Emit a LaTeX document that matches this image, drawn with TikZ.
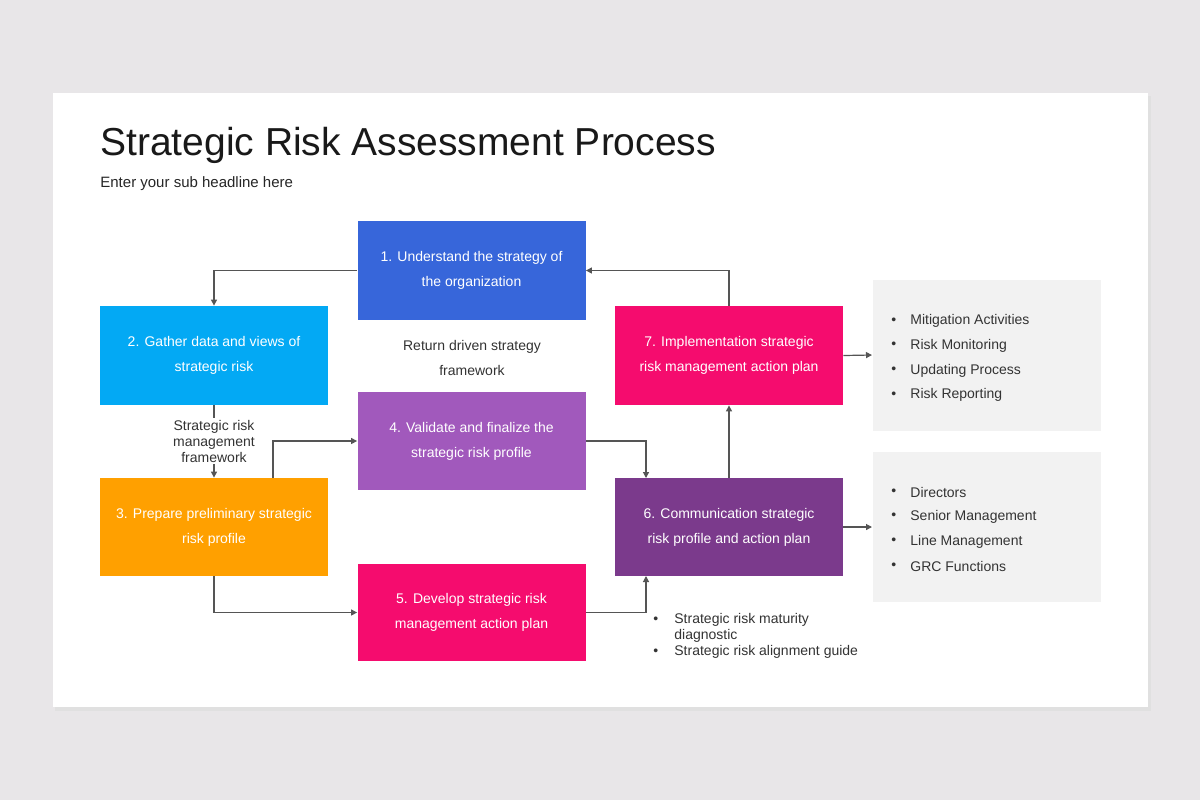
\documentclass[tikz,border=0pt]{standalone}
\usepackage{fontspec}
\setmainfont{Liberation Sans}
\usetikzlibrary{arrows.meta,calc}
\definecolor{bg}{HTML}{E8E6E8}
\definecolor{cA}{HTML}{3766DA}
\definecolor{cB}{HTML}{03A9F4}
\definecolor{cC}{HTML}{FFA000}
\definecolor{cD}{HTML}{A159BC}
\definecolor{cE}{HTML}{F50C6E}
\definecolor{cF}{HTML}{7B3A8C}
\definecolor{gbox}{HTML}{F2F2F2}
\definecolor{ln}{HTML}{555555}
\definecolor{tx}{HTML}{333333}
\tikzset{
  stepbox/.style={fill=#1,text=white,font=\fontsize{7}{12.5}\selectfont,align=center,inner sep=0pt},
  conn/.style={draw=ln,line width=0.6pt,-{Triangle[length=3pt,width=3pt]}},
  lbl/.style={text=tx,font=\fontsize{7}{8}\selectfont,align=center},
  itm/.style={text=tx,font=\fontsize{7}{8}\selectfont,anchor=west,inner sep=0pt},
}
\begin{document}
\begin{tikzpicture}[x=0.5pt,y=-0.5pt]
\fill[bg] (0,0) rectangle (1200,800);
\useasboundingbox (0,0) rectangle (1200,800);
\fill[black!12] (55,96) rectangle (1151,711);
\fill[white] (53,93) rectangle (1148,707);
\node[anchor=base west,inner sep=0pt,text=black!90,font=\fontsize{19.5}{20}\selectfont] (title) at (100,155) {Strategic Risk Assessment Process};
\node[anchor=base west,inner sep=0pt,text=black!85,font=\fontsize{7.5}{9}\selectfont] (sub) at (100,187) {Enter your sub headline here};
\newcommand{\bx}[6]{\node[stepbox=#6,minimum width=#4*0.5pt,minimum height=#5*0.5pt] (#1) at (#2,#3) {\strut #1};}
\node[stepbox=cA,minimum width=114pt,minimum height=49.5pt] (n1) at (471.5,270.5) {1. Understand the strategy of\\the organization};
\node[stepbox=cB,minimum width=114pt,minimum height=49.5pt] (n2) at (214,355.5) {2. Gather data and views of\\strategic risk};
\node[stepbox=cC,minimum width=114pt,minimum height=49pt] (n3) at (214,527) {3. Prepare preliminary strategic\\risk profile};
\node[stepbox=cD,minimum width=114pt,minimum height=49pt] (n4) at (471.5,441) {4. Validate and finalize the\\strategic risk profile};
\node[stepbox=cE,minimum width=114pt,minimum height=48.5pt] (n5) at (471.5,612.5) {5. Develop strategic risk\\management action plan};
\node[stepbox=cF,minimum width=114pt,minimum height=49pt] (n6) at (729,527) {6. Communication strategic\\risk profile and action plan};
\node[stepbox=cE,minimum width=114pt,minimum height=49.5pt] (n7) at (729,355.5) {7. Implementation strategic\\risk management action plan};
\node[fill=gbox,minimum width=114pt,minimum height=75.5pt,inner sep=0pt] (g1) at (987,355.5) {};
\node[fill=gbox,minimum width=114pt,minimum height=75pt,inner sep=0pt] (g2) at (987,527) {};
% connectors
\draw[conn] (n1.west) -| (n2.north);
\draw[conn] (n2.south) -- (n3.north);
\node[lbl,fill=white,inner sep=1pt,font=\fontsize{7}{8}\selectfont] (l2) at (214,441) {Strategic risk\\management\\framework};
\coordinate (c3t) at (273,478);
\draw[conn] (c3t) |- (n4.west);
\coordinate (c3b) at (214,576);
\draw[conn] (c3b) |- (n5.west);
\draw[conn] (n4.east) -| (646,478) coordinate (c6t);
\draw[conn] (n5.east) -| (646,576) coordinate (c6b);
\draw[conn] (n6.north) -- (n7.south);
\draw[conn] (n7.north) |- (n1.east);
\coordinate (e1) at (872,355);
\coordinate (e2) at (872,527);
\draw[conn] (n7.east) -- (e1);
\draw[conn] (n6.east) -- (e2);
\node[lbl,font=\fontsize{7}{12.5}\selectfont] (rd) at (472,358) {Return driven strategy\\framework};
% bullet lists
\foreach \t [count=\i] in {Mitigation Activities,Risk Monitoring,Updating Process,Risk Reporting}{
  \node[itm] (a\i) at (891,{321+24.7*(\i-1)}) {\textbullet};
  \node[itm] (at\i) at (910,{321+24.7*(\i-1)}) {\t};}
\foreach \t [count=\i] in {Directors,Senior Management,Line Management,GRC Functions}{
  \node[itm] (b\i) at (891,{492+24.7*(\i-1)}) {\textbullet};
  \node[itm] (bt\i) at (910,{492+24.7*(\i-1)}) {\t};}
\node[itm] (d1) at (653,620) {\textbullet};
\node[itm,align=left,font=\fontsize{7}{8}\selectfont] (dt1) at (674,628) {Strategic risk maturity\\diagnostic};
\node[itm] (d2) at (653,652) {\textbullet};
\node[itm] (dt2) at (674,652) {Strategic risk alignment guide};
\end{tikzpicture}
\end{document}
